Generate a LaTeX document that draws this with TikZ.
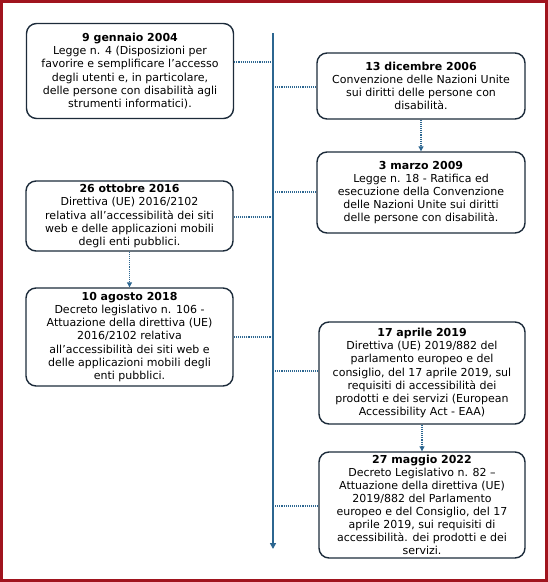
\documentclass[tikz,border=0pt]{standalone}
\usepackage{fontspec}
\setmainfont{DejaVu Sans}
\usetikzlibrary{arrows.meta}
\definecolor{framered}{HTML}{A0141E}
\definecolor{boxline}{HTML}{1C2B3A}
\definecolor{tlblue}{HTML}{2C6690}
\tikzset{
  evt/.style={draw=boxline, line width=1.4pt, rounded corners=10pt, align=center,
    inner sep=0pt, font=\fontsize{11}{13.1}\selectfont, text=black},
  dotlink/.style={draw=tlblue, line width=1.1pt, densely dotted},
  dotarrow/.style={dotlink, -{Triangle[length=5pt,width=5pt]}},
  timeline/.style={draw=tlblue, line width=1.6pt, -{Triangle[length=6pt,width=6pt]}}
}
\begin{document}
\begin{tikzpicture}[x=1pt,y=-1pt]
\useasboundingbox (0,0) rectangle (548,582);
\draw[framered, line width=3pt] (1.5,1.5) rectangle (546,580.5);

% timeline
\coordinate (ttop) at (273,33);
\coordinate (tbot) at (273,549);
\draw[timeline] (ttop) -- (tbot);

% boxes
\node[evt, minimum width=207pt, minimum height=95pt] (b1) at (130,71)
  {\textbf{9 gennaio 2004}\\Legge n. 4 (Disposizioni per\\favorire e semplificare l’accesso\\degli utenti e, in particolare,\\delle persone con disabilità agli\\strumenti informatici).};
\node[evt, minimum width=208pt, minimum height=66pt] (b2) at (421,86)
  {\textbf{13 dicembre 2006}\\Convenzione delle Nazioni Unite\\sui diritti delle persone con\\disabilità.};
\node[evt, minimum width=208pt, minimum height=81pt] (b3) at (421,192.5)
  {\textbf{3 marzo 2009}\\Legge n. 18 - Ratifica ed\\esecuzione della Convenzione\\delle Nazioni Unite sui diritti\\delle persone con disabilità.};
\node[evt, minimum width=207pt, minimum height=70pt] (b4) at (129.5,216)
  {\textbf{26 ottobre 2016}\\Direttiva (UE) 2016/2102\\relativa all’accessibilità dei siti\\web e delle applicazioni mobili\\degli enti pubblici.};
\node[evt, minimum width=207pt, minimum height=98pt] (b5) at (129.5,337)
  {\textbf{10 agosto 2018}\\Decreto legislativo n. 106 -\\Attuazione della direttiva (UE)\\2016/2102 relativa\\all’accessibilità dei siti web e\\delle applicazioni mobili degli\\enti pubblici.};
\node[evt, minimum width=206pt, minimum height=102pt] (b6) at (422,373)
  {\textbf{17 aprile 2019}\\Direttiva (UE) 2019/882 del\\parlamento europeo e del\\consiglio, del 17 aprile 2019, sul\\requisiti di accessibilità dei\\prodotti e dei servizi (European\\Accessibility Act - EAA)};
\node[evt, minimum width=206pt, minimum height=106pt] (b7) at (422,505)
  {\textbf{27 maggio 2022}\\Decreto Legislativo n. 82 –\\Attuazione della direttiva (UE)\\2019/882 del Parlamento\\europeo e del Consiglio, del 17\\aprile 2019, sui requisiti di\\accessibilità. dei prodotti e dei\\servizi.};

% timeline anchors
\coordinate (t1) at (273,62);
\coordinate (t2) at (273,87);
\coordinate (t3) at (273,192);
\coordinate (t4) at (273,217);
\coordinate (t5) at (273,337);
\coordinate (t6) at (273,371);
\coordinate (t7) at (273,506);

\draw[dotlink] (b1.east |- t1) -- (t1);
\draw[dotlink] (t2) -- (b2.west |- t2);
\draw[dotlink] (t3) -- (b3.west |- t3);
\draw[dotlink] (b4.east |- t4) -- (t4);
\draw[dotlink] (b5.east |- t5) -- (t5);
\draw[dotlink] (t6) -- (b6.west |- t6);
\draw[dotlink] (t7) -- (b7.west |- t7);

\draw[dotarrow] (b2.south) -- (b3.north);
\draw[dotarrow] (b4.south) -- (b5.north);
\draw[dotarrow] (b6.south) -- (b7.north);
\end{tikzpicture}
\end{document}
